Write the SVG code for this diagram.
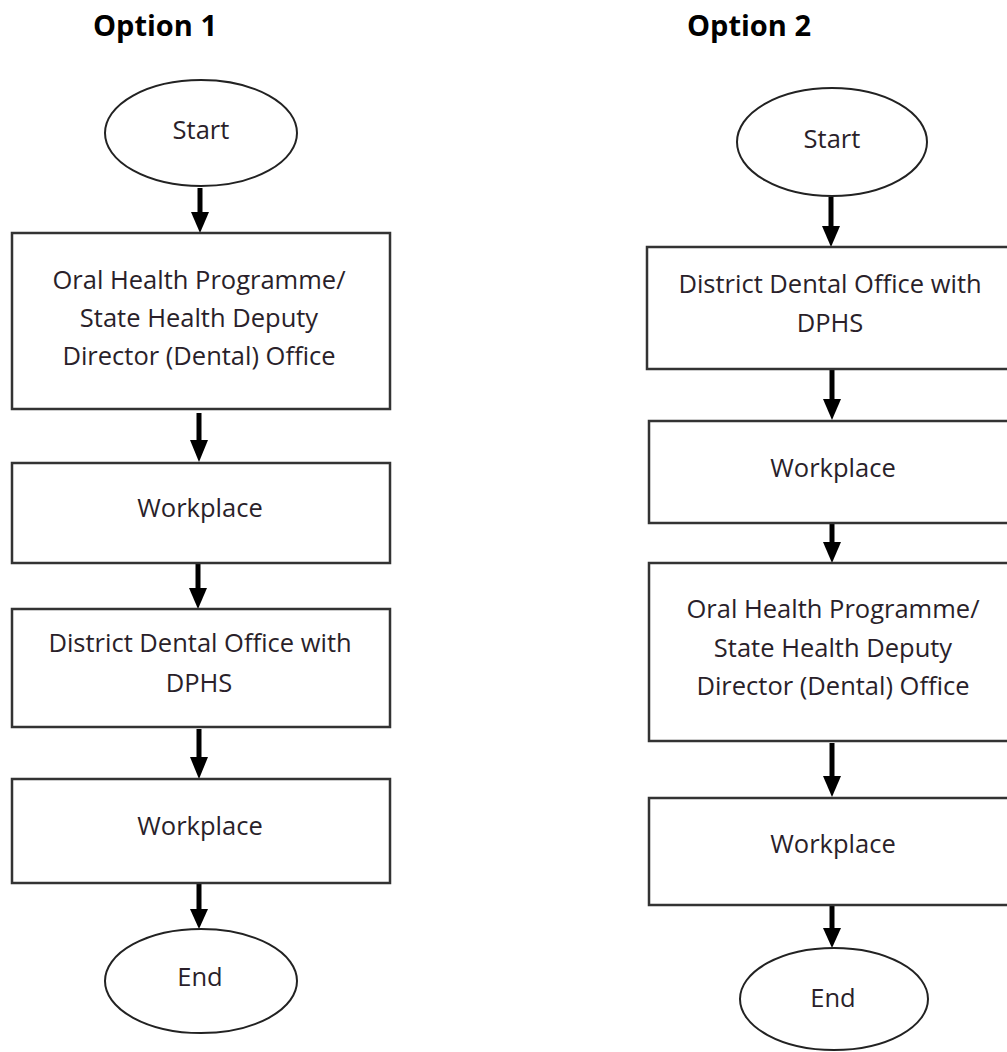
<svg xmlns="http://www.w3.org/2000/svg" width="1007" height="1052" viewBox="0 0 1007 1052">
<style>
.title{font-family:"Open Sans","Noto Sans",sans-serif;font-weight:bold;font-size:29px;fill:#000;text-anchor:middle}
.lbl{font-family:"Open Sans","Noto Sans",sans-serif;font-size:25.5px;fill:#2a1f2a;text-anchor:middle}
.box{fill:#fff;stroke:#333;stroke-width:2.5}
.term{fill:#fff;stroke:#222;stroke-width:2}
.conn{stroke:#000;stroke-width:5;fill:none}
.head{fill:#000}
</style>
<rect width="1007" height="1052" fill="#fff"/>
<text class="title" x="155" y="36">Option 1</text>
<text class="title" x="749" y="36">Option 2</text>

<g id="connectors">
<line class="conn" x1="200" y1="188" x2="200" y2="213"/>
<path class="head" d="M191,212 L209,212 L200,233 Z"/>
<line class="conn" x1="199" y1="413" x2="199" y2="441"/>
<path class="head" d="M190,440 L208,440 L199,462 Z"/>
<line class="conn" x1="198" y1="564" x2="198" y2="589"/>
<path class="head" d="M189,588 L207,588 L198,609 Z"/>
<line class="conn" x1="199" y1="729" x2="199" y2="758"/>
<path class="head" d="M190,757 L208,757 L199,779 Z"/>
<line class="conn" x1="199" y1="884" x2="199" y2="910"/>
<path class="head" d="M190,909 L208,909 L199,929 Z"/>

<line class="conn" x1="831" y1="197" x2="831" y2="227"/>
<path class="head" d="M822,226 L840,226 L831,247 Z"/>
<line class="conn" x1="832" y1="370" x2="832" y2="400"/>
<path class="head" d="M823,399 L841,399 L832,420 Z"/>
<line class="conn" x1="832" y1="524" x2="832" y2="543"/>
<path class="head" d="M823,542 L841,542 L832,563 Z"/>
<line class="conn" x1="832" y1="743" x2="832" y2="777"/>
<path class="head" d="M823,776 L841,776 L832,797 Z"/>
<line class="conn" x1="832" y1="906" x2="832" y2="929"/>
<path class="head" d="M823,928 L841,928 L832,948 Z"/>
</g>

<g id="start1">
<ellipse class="term" cx="201" cy="133" rx="96" ry="53"/>
<text class="lbl" x="201" y="139">Start</text>
</g>
<g id="oral1">
<rect class="box" x="12" y="233" width="378" height="176"/>
<text class="lbl" x="199" y="289">Oral Health Programme/</text>
<text class="lbl" x="199" y="327">State Health Deputy</text>
<text class="lbl" x="199" y="365">Director (Dental) Office</text>
</g>
<g id="work1a">
<rect class="box" x="12" y="463" width="378" height="100"/>
<text class="lbl" x="200" y="517">Workplace</text>
</g>
<g id="district1">
<rect class="box" x="12" y="609" width="378" height="118"/>
<text class="lbl" x="200" y="652">District Dental Office with</text>
<text class="lbl" x="199" y="692">DPHS</text>
</g>
<g id="work1b">
<rect class="box" x="12" y="779" width="378" height="104"/>
<text class="lbl" x="200" y="835">Workplace</text>
</g>
<g id="end1">
<ellipse class="term" cx="201" cy="981" rx="96" ry="52"/>
<text class="lbl" x="200" y="986">End</text>
</g>

<g id="start2">
<ellipse class="term" cx="832" cy="142" rx="95" ry="54"/>
<text class="lbl" x="832" y="148">Start</text>
</g>
<g id="district2">
<rect class="box" x="647" y="247" width="370" height="122"/>
<text class="lbl" x="830" y="293">District Dental Office with</text>
<text class="lbl" x="830" y="332">DPHS</text>
</g>
<g id="work2a">
<rect class="box" x="649" y="421" width="368" height="102"/>
<text class="lbl" x="833" y="477">Workplace</text>
</g>
<g id="oral2">
<rect class="box" x="649" y="563" width="368" height="178"/>
<text class="lbl" x="833" y="618">Oral Health Programme/</text>
<text class="lbl" x="833" y="657">State Health Deputy</text>
<text class="lbl" x="833" y="695">Director (Dental) Office</text>
</g>
<g id="work2b">
<rect class="box" x="649" y="798" width="368" height="107"/>
<text class="lbl" x="833" y="853">Workplace</text>
</g>
<g id="end2">
<ellipse class="term" cx="834" cy="999" rx="94" ry="51"/>
<text class="lbl" x="833" y="1007">End</text>
</g>
</svg>
